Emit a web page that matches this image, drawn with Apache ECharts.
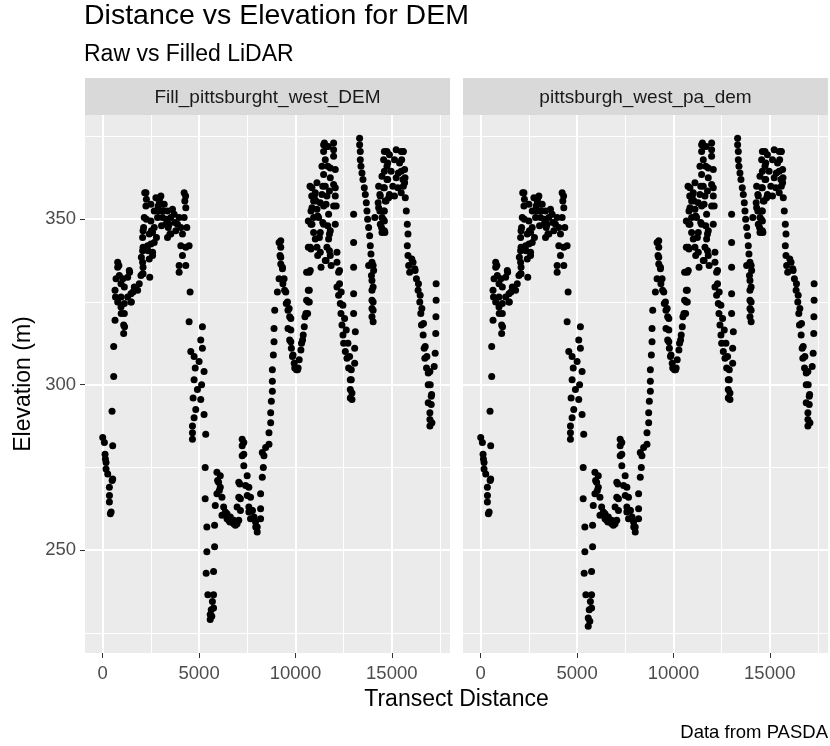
<!DOCTYPE html>
<html>
<head>
<meta charset="utf-8">
<script src="https://cdn.jsdelivr.net/npm/echarts@6/dist/echarts.min.js"></script>
<style>
  html, body { margin: 0; padding: 0; background: #fff; }
  #chart { width: 830px; height: 746px; }
</style>
</head>
<body>
<div id="chart"></div>
<script>
const facetLabels = ['Fill_pittsburght_west_DEM', 'pittsburgh_west_pa_dem'];
const xMajor = [0, 5000, 10000, 15000];
const xMinor = [2500, 7500, 12500, 17500];
const yMajor = [250, 300, 350];
const yMinor = [225, 275, 325, 375];

// [distance, elevation] pairs, one array per stretch of the transect
const startValley = [[0,284],[86,282.5],[121,279],[140,277.5],[172,276.5],[172,274.5],[259,273],[345,269],[349,266.5],[345,264.5],[397,261],[436,261.5],[488,271],[517,271.5],[517,281.5]];
const firstRise = [[483,292],[569,302.5],[569,311.5],[638,319.5],[1086,315.5],[1086,318],[1121,321.5],[1133,317.5],[959,321.5],
  [776,337],[776,335.5],[690,332],[638,328.5],[662,326.5],[862,333],[948,330.5],[1379,334.5],[1293,332.5],[1121,329.5],[1638,329.5],
  [1896,330.5],[1983,333],[1465,327.5],[948,326.5],[1293,326.5],[776,325],[1465,325],[1121,324.5],[948,323.5],[1810,328.5],
  [2069,333.5],[1046,332],[837,336],[1394,334],[1481,325],[1569,328],[2092,333.5]];
const westRidge = [[2241,358],[2241,354],[2155,350.5],[2121,347.5],[2069,344.5],[2069,340.5],[2069,337],[2414,338],[2586,340],[2500,342.5],
  [2586,346],[2672,347.5],[2845,350.5],[2758,356.5],[2931,355.5],[3103,354.5],[2931,352.5],[2672,352.5],[2500,354.5],[2500,349.5],
  [2414,345.5],[2327,342],[2672,343],[2586,339],[2179,358],[2266,356],[2963,356.5],[2876,354],[3138,352.5],[3312,350],
  [3399,347.5],[3486,345.5],[3050,348],[2789,344.5],[2527,346.5],[2266,350],[2092,346.5],[2092,341.5],[2005,338.5],[2092,335.5],
  [2353,340.5],[2440,332.5],[3017,357],[3190,354.5],[3362,352.5],[3534,350.5],[3707,351.5],[3448,348.5],[3534,345.5],[3362,344.5],
  [3793,346.5],[3879,348.5],[4052,347.5],[3965,350.5],[3103,350.5],[3276,348.5],[4224,358],[4259,355.5],[4310,353.5],[4224,350.5],
  [4362,347.5],[4138,345.5],[4052,342],[4310,341.5],[4483,342],[4138,339],[4310,336],[3965,334],[3965,336],[4534,328],
  [3620,353],[3750,349],[4300,357]];
const eastSlope = [[4483,319],[5172,317.5],[5086,313.5],[5172,311],[4569,310],[4741,308.5],[5000,307],[5259,304],[4741,301.5],[4914,298.5],
  [5086,295.5],[4828,292.5],[4741,290],[5259,291],[4655,287.5],[4655,285.5],[4655,283.5],[5345,285],[4690,296],[4800,305],[5130,300]];
const pitSides = [[5316,275],[5316,265.5],[5403,257],[5804,257.5],[5804,251],[5403,249.5],[5368,243],[5752,243.5],[5455,236.5],[5752,236.5],
  [5630,232],[5752,232.5],[5690,234.5]];
// bottom of the pit: the only place where the filled DEM sits above the raw one
const pitBottomFilled = [[5578,230.5],[5578,229],[5660,230]];
const pitBottomRaw = [[5578,229.5],[5578,227],[5660,228.5]];
const valleyFloor = [[5926,273.5],[6100,272.5],[6013,270.5],[6100,269],[5926,267],[6187,266],[5839,263.5],[6274,263],[6361,261.5],[6449,259.5],
  [6536,259],[6710,258.5],[6884,257.5],[6972,258],[7059,259],[7146,262],[7146,265.5],[7111,270],[6797,259],[6623,260],
  [6449,261],[6187,260.5],[5960,271],[6050,268],[6600,258.5],[6800,258]];
const secondValley = [[7321,275.5],[7321,279],[7321,282.5],[7236,283.5],[7236,281.5],[7236,278.5],[7060,270.5],[7412,269.5],[7060,266],[7500,266.5],
  [6972,263],[7495,272.5],[7582,269],[7669,266],[7582,263],[7756,262],[7843,259.5],[8017,257],[8017,255.5],[7930,258.5],
  [7582,261.5],[7669,259.5],[7764,262],[7852,260],[7940,257]];
const climbNineK = [[8192,259.5],[8192,262.5],[8192,267],[8279,272],[8332,275],[8366,278.5],[8453,281],[8627,282],[8279,279.5],[8627,285.5],
  [8715,288.5],[8715,291.5],[8750,295],[8802,298],[8802,301],[8802,304.5],[8854,309],[8889,313],[8889,317],[8924,322.5]];
const nineKRidge = [[9238,343.5],[9238,341.5],[9238,338.5],[9325,335.5],[9150,343],[9200,339],[9064,328],[9151,332],[9238,336.5],[9325,335],
  [9412,332],[9499,328],[9586,325],[9673,323],[9700,320.5],[9612,317],[9700,313.5],[9760,320],[9760,316.5],[9760,313],
  [9788,311],[9847,308.5],[9876,309],[9935,306.5],[9964,305],[10052,304.5],[10109,304.5],[9348,330.5],[9436,328.5],[9524,324.5],[9612,322.5]];
const climbElevenK = [[10140,305],[10196,307.5],[10283,310.5],[10316,312.5],[10371,313.5],[10404,315],[10458,317.5],[10492,320.5],[10545,321.5],[10580,325.5],
  [10632,321.5],[10668,325],[10668,328.5],[10719,325],[10719,328.5],[10719,334],[10580,334],[10770,334.5],[10668,341.5],[10770,341.5],
  [10668,349.5],[10756,360],[10844,357],[10806,352.5],[10806,348.5],[10806,341]];
const elevenKPeak = [[11462,372.5],[11981,373],[11462,370.5],[11981,371],[11548,368],[11981,369],[11375,366],[11808,365.5],[12067,365],[11462,363.5],
  [11808,362.5],[11116,361],[11548,360],[11981,360.5],[10857,359.5],[11029,358],[11375,357.5],[12067,359.5],[10943,355.5],[11289,355],
  [11635,357],[12067,357],[10857,353.5],[11116,353],[11462,354],[11981,354],[10943,350.5],[11202,350.5],[11721,351.5],[12067,348.5],
  [10857,348.5],[11462,348.5],[11808,346.5],[10943,346],[11289,346],[11029,344],[11721,344],[11116,341.5],[11635,341.5],[11808,339],
  [11289,340],[12154,340],[11548,337.5],[12154,337],[12240,334],[11591,337.5],[11852,336],[11329,335.5],[11155,339],[11504,373],
  [11678,366],[11417,360],[11765,358.5],[10981,357],[11068,355.5],[11591,354.5],[12113,354],[11155,351],[11417,349],[11678,348],
  [11765,345.5],[11242,344.5],[11765,340.5],[11700,372],[11600,372]];
const twelveKDescent = [[12154,329.5],[12240,327],[12327,324.5],[12362,321.5],[12414,318],[12466,315],[12500,312.5],[12587,310],[12673,308],[12760,305],
  [12846,301.5],[12846,298.5],[12846,296],[12898,304.5],[12898,301.5],[12933,297.5],[12933,295.5],[12288,334.5],[12288,330.5],[12375,328],
  [12462,324],[12550,320],[12637,316.5],[12724,312.5],[12811,308.5]];
const thirteenKPeak = [[13019,351.5],[13019,343],[13019,335.5],[13019,327.5],[13019,321.5],[13073,306.5],[13073,311],[13108,316],
  [13330,374.5],[13330,372.5],[13365,370.5],[13365,368],[13400,366],[13452,364],[13503,362],[13573,359.5],[13625,357.5],[13677,355],
  [13711,352.5],[13746,350],[13798,347.5],[13850,345],[13884,342],[13919,339.5],[13971,337],[14057,334.5],[13971,331.5],[13971,328.5],
  [13971,325.5],[13971,323],[13971,320.5],[13798,336],[14031,336],[13944,333],[14031,329.5],[14031,325],[14031,322.5],[14031,319]];
const fifteenKRidge = [[14749,370.5],[14576,368],[14749,366],[14490,363],[14749,362],[14317,360],[14576,359.5],[14403,357],[14663,355.5],[14317,353.5],
  [14576,352.5],[14490,350.5],[14403,348.5],[14490,346],[14836,356.5],[14615,370.5],[14878,369.5],[15227,371],[15490,370.5],[14790,367],
  [15140,368],[15402,367],[14615,364.5],[14965,364.5],[15490,364.5],[14790,362],[15227,362.5],[15577,362],[14615,359.5],[15052,360],
  [15315,359.5],[14878,357.5],[15490,358],[14703,355.5],[15140,357],[14615,352.5],[14615,349.5],[14615,346.5],[15599,370.5],[15512,368],
  [15338,364],[15686,362.5],[15599,360],[14380,357.5],[14293,355],[14380,352.5],[14118,350.5],[14554,350],[14467,347.5],[14641,346]];
const eastDescent = [[15577,370.5],[15665,365],[15665,361],[15700,356.5],[15752,352.5],[15805,348.5],[15840,345.5],[15805,342],[15840,339],[15875,336],
  [15927,334],[16102,337],[16190,335],[16277,332],[16365,328.5],[16452,325],[16505,321.5],[16540,318],[16627,315],[16680,311],
  [16715,308],[16802,305],[16890,303.5],[16977,304],[16890,300],[17065,297],[16890,294.5],[16977,291.5],[16977,289.5],[16977,287.5],
  [16036,338],[16210,334.5],[16384,330.5],[16472,327],[16559,323],[16646,318.5],[16733,311.5],[16820,308.5],[16994,300],[17047,296.5],
  [17047,294],[17081,288.5]];
const lastColumn = [[17300,330.5],[17300,325.5],[17290,320.5],[17280,315.5],[17250,309.5],[17200,305.5]];

const shared = [].concat(startValley, firstRise, westRidge, eastSlope, pitSides, valleyFloor, secondValley,
  climbNineK, nineKRidge, climbElevenK, elevenKPeak, twelveKDescent, thirteenKPeak, fifteenKRidge, eastDescent, lastColumn);
const panelPoints = [shared.concat(pitBottomFilled), shared.concat(pitBottomRaw)];

const FONT = '"Liberation Sans", Arial, sans-serif';
const panelLeft = [85, 463];
const panelTop = 115;
const panelW = 365;
const panelH = 538;
const xRange = [-920, 18020];
const yRange = [218.9, 381.5];

const chart = echarts.init(document.getElementById('chart'));

const gridLineData = [
  ...xMinor.map(v => ({ xAxis: v, lineStyle: { width: 1 } })),
  ...yMinor.map(v => ({ yAxis: v, lineStyle: { width: 1 } })),
  ...xMajor.map(v => ({ xAxis: v, lineStyle: { width: 2 } })),
  ...yMajor.map(v => ({ yAxis: v, lineStyle: { width: 2 } }))
];

const series = [];
panelPoints.forEach((pts, i) => {
  // empty helper series that only carries the white panel grid
  series.push({
    type: 'scatter', xAxisIndex: i, yAxisIndex: i, data: [], silent: true, z: 1,
    markLine: {
      silent: true, z: 1, symbol: ['none', 'none'], label: { show: false },
      lineStyle: { color: '#ffffff', type: 'solid' },
      emphasis: { disabled: true },
      data: gridLineData
    }
  });
  series.push({
    type: 'scatter', xAxisIndex: i, yAxisIndex: i, data: pts, z: 3, silent: true,
    symbolSize: 7, itemStyle: { color: '#000000', opacity: 1 }
  });
});

const option = {
  animation: false,
  backgroundColor: '#ffffff',
  title: {
    text: 'Distance vs Elevation for DEM',
    subtext: 'Raw vs Filled LiDAR',
    left: 84, top: 2, padding: 0, itemGap: 12,
    textStyle: { fontFamily: FONT, fontSize: 28.5, fontWeight: 'normal', color: '#000' },
    subtextStyle: { fontFamily: FONT, fontSize: 23, color: '#000' }
  },
  grid: panelLeft.map(l => ({
    left: l, top: panelTop, width: panelW, height: panelH,
    show: true, backgroundColor: '#EBEBEB', borderWidth: 0
  })),
  xAxis: panelLeft.map((_, i) => ({
    gridIndex: i, type: 'value', min: xRange[0], max: xRange[1],
    axisLine: { show: false, onZero: false },
    splitLine: { show: false },
    axisTick: { show: true, length: 5, customValues: xMajor, lineStyle: { color: '#333333', width: 1 } },
    axisLabel: { customValues: xMajor, margin: 11, color: '#4D4D4D', fontSize: 18.5, fontFamily: FONT,
      formatter: v => String(v) }
  })),
  yAxis: panelLeft.map((_, i) => ({
    gridIndex: i, type: 'value', min: yRange[0], max: yRange[1],
    axisLine: { show: false, onZero: false },
    splitLine: { show: false },
    axisTick: { show: i === 0, length: 5, customValues: yMajor, lineStyle: { color: '#333333', width: 1 } },
    axisLabel: { show: i === 0, customValues: yMajor, margin: 9, color: '#4D4D4D', fontSize: 18.5, fontFamily: FONT,
      formatter: v => String(v) }
  })),
  graphic: [
    ...panelLeft.map((l, i) => ({
      type: 'group', children: [
        { type: 'rect', shape: { x: l, y: 78, width: panelW, height: panelTop - 78 }, style: { fill: '#D9D9D9' } },
        { type: 'text', x: l + panelW / 2, y: 98,
          style: { text: facetLabels[i], fontFamily: FONT, fontSize: 19, fill: '#1A1A1A', align: 'center', verticalAlign: 'middle' } }
      ]
    })),
    { type: 'text', x: 24, y: panelTop + panelH / 2, rotation: Math.PI / 2,
      style: { text: 'Elevation (m)', fontFamily: FONT, fontSize: 23, fill: '#000', align: 'center', verticalAlign: 'middle' } },
    { type: 'text', x: (panelLeft[0] + panelLeft[1] + panelW) / 2, y: 700,
      style: { text: 'Transect Distance', fontFamily: FONT, fontSize: 23, fill: '#000', align: 'center', verticalAlign: 'middle' } },
    { type: 'text', x: panelLeft[1] + panelW, y: 733,
      style: { text: 'Data from PASDA', fontFamily: FONT, fontSize: 18.5, fill: '#000', align: 'right', verticalAlign: 'middle' } }
  ],
  series: series
};

chart.setOption(option);
</script>
</body>
</html>
